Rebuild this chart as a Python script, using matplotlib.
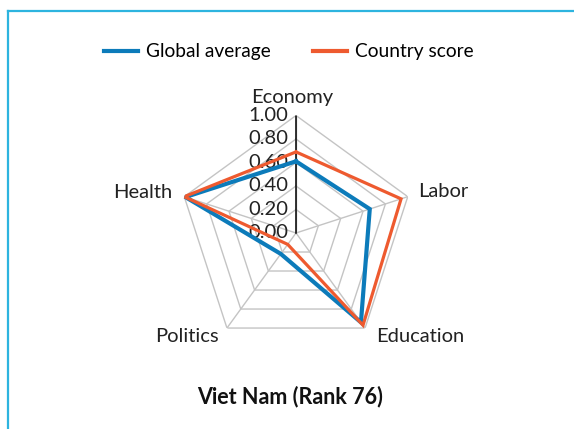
import numpy as np
import matplotlib.pyplot as plt
import matplotlib.lines as mlines

#  Pillar scores (clockwise from the top)
categories = ['Economy', 'Labor', 'Education', 'Politics', 'Health']
global_average = [0.61, 0.66, 0.94, 0.22, 0.99]
country_score = [0.69, 0.94, 0.97, 0.12, 1.00]
ring_values = [0.2, 0.4, 0.6, 0.8, 1.0]
tick_labels = ['0.00', '0.20', '0.40', '0.60', '0.80', '1.00']
title = 'Viet Nam (Rank 76)'

blue = '#0C7BBA'
orange = '#EE5A2F'
grid_grey = '#C4C4C4'

plt.rcParams['font.family'] = ['Lato', 'DejaVu Sans']

fig = plt.figure(figsize=(5.74, 4.29), dpi=100, facecolor='white')

#  Radar axes - pentagon grid drawn by hand
ax = fig.add_axes([0.3110, 0.1830, 0.4094, 0.5478], projection='polar')
ax.set_theta_offset(np.pi / 2)
ax.set_theta_direction(-1)
ax.set_ylim(0, 1)
ax.axis('off')

angles = np.linspace(0, 2 * np.pi, len(categories), endpoint=False)
closed = np.append(angles, angles[0])

#  Grey rings and spokes
for r in ring_values:
    ax.plot(closed, [r] * len(closed), color=grid_grey, lw=1.0, zorder=1)
for a in angles:
    ax.plot([a, a], [0, 1], color=grid_grey, lw=1.0, zorder=1)

#  Value axis along Economy with tick labels
ax.plot([0, 0], [0, 1], color='black', lw=1.1, zorder=2)
for i, lab in enumerate(tick_labels):
    ax.annotate(lab, xy=(0, i * 0.2), xytext=(-8, 0), textcoords='offset pixels',
                ha='right', va='center', fontsize=14.5, color='#222222', zorder=2)

#  Category labels around the pentagon
label_offsets = {'Economy': ((-4, 18), 'center'),
                 'Labor': ((10, 5), 'left'),
                 'Education': ((11, -8), 'left'),
                 'Politics': ((-8, -8), 'right'),
                 'Health': ((-12, 4), 'right')}
for a, name in zip(angles, categories):
    off, ha = label_offsets[name]
    ax.annotate(name, xy=(a, 1), xytext=off, textcoords='offset pixels',
                ha=ha, va='center', fontsize=14.5, color='#222222')

#  Data series
ax.plot(closed, global_average + global_average[:1], color=blue, lw=3.0, zorder=4,
        solid_joinstyle='miter')
ax.plot(closed, country_score + country_score[:1], color=orange, lw=2.3, zorder=5,
        solid_joinstyle='miter')

#  Legend across the top
blue_line = mlines.Line2D([], [], color=blue, lw=3.0)
orange_line = mlines.Line2D([], [], color=orange, lw=3.0)
fig.legend([blue_line, orange_line], ['Global average', 'Country score'],
           loc='center', bbox_to_anchor=(0.503, 1 - 52 / 429), ncol=2, frameon=False,
           fontsize=13.8, handlelength=1.8, handletextpad=0.4, columnspacing=2.2)

#  Chart title
fig.text(0.505, 1 - 397 / 429, title, ha='center', va='center', fontsize=15.5,
         fontweight='bold', color='#111111')

#  Cyan frame on the top and left edges
frame_color = '#2DB4DF'
fig.add_artist(mlines.Line2D([8 / 574, 8 / 574], [0, 1 - 11 / 429], color=frame_color,
                             lw=1.6, transform=fig.transFigure))
fig.add_artist(mlines.Line2D([8 / 574, 1], [1 - 11 / 429, 1 - 11 / 429], color=frame_color,
                             lw=1.6, transform=fig.transFigure))

fig.savefig('out.png', dpi=100, facecolor='white')
